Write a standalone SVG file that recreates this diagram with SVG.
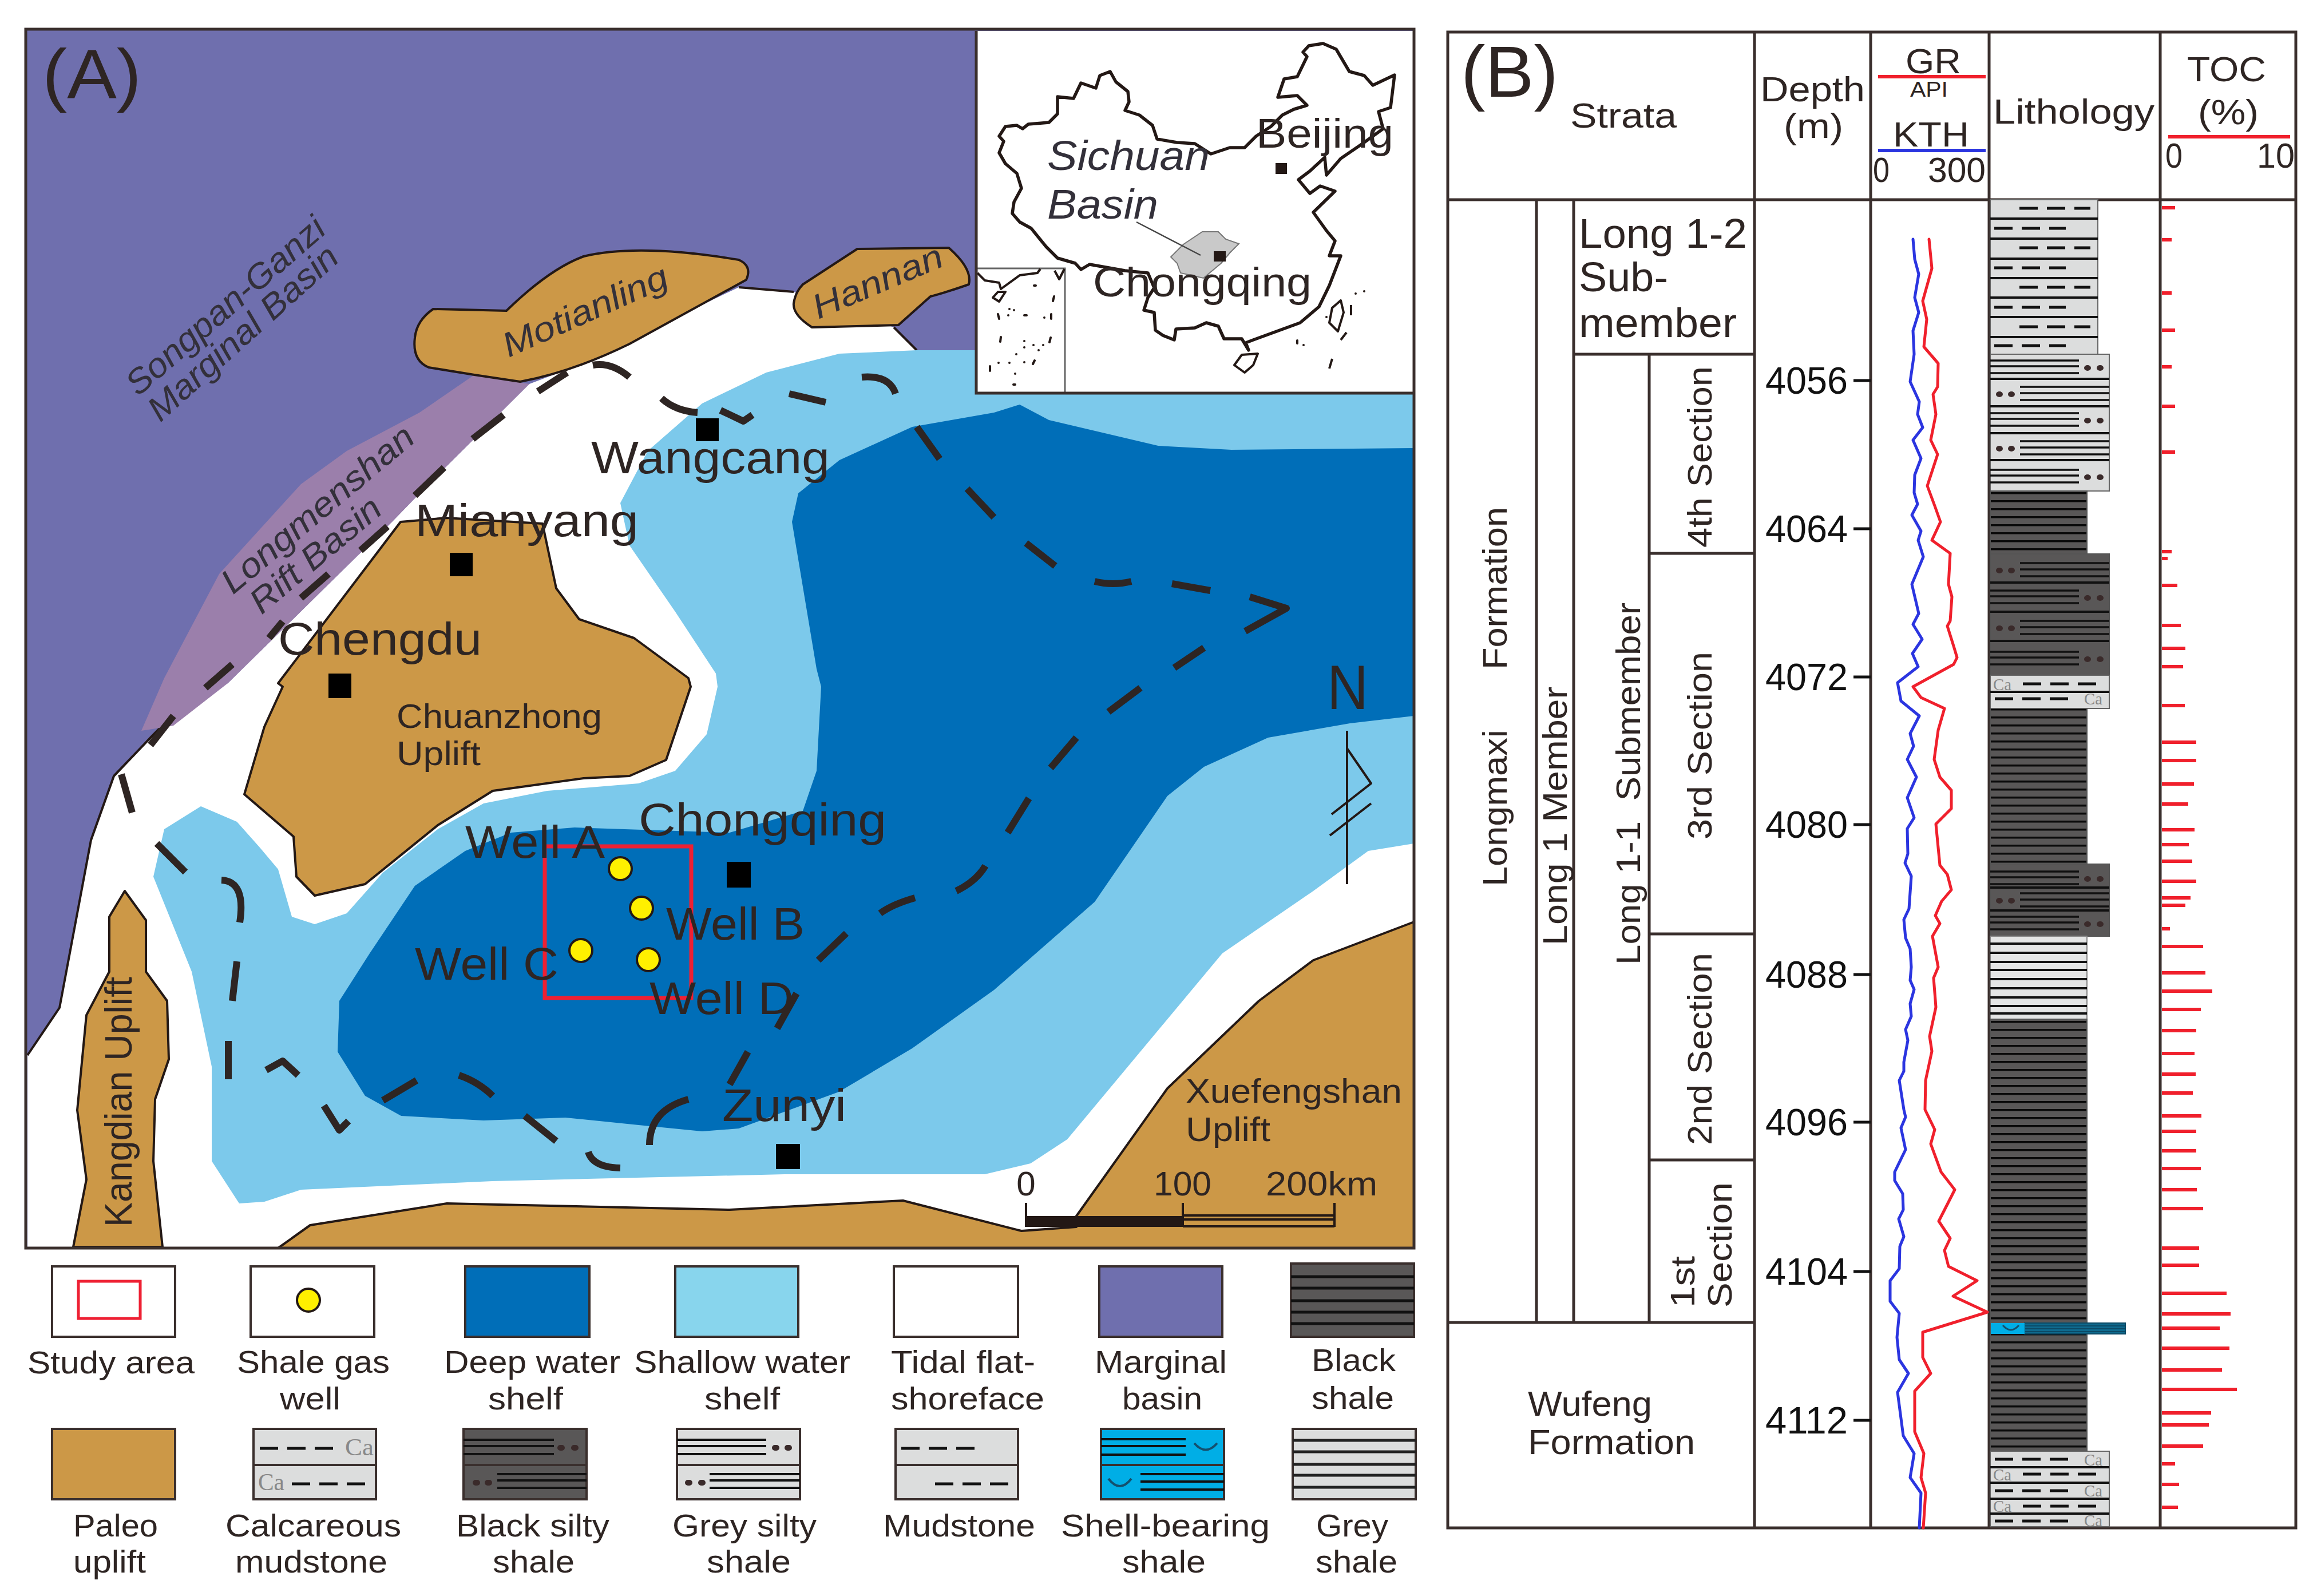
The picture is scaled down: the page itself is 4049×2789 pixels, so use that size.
<svg xmlns="http://www.w3.org/2000/svg" xmlns:xlink="http://www.w3.org/1999/xlink" width="4049" height="2789" viewBox="0 0 4049 2789">
<style>
text{font-family:"Liberation Sans",Arial,sans-serif;fill:#2e2523}
.it{font-style:italic;fill:#33303a}
.ca{font-family:"Liberation Serif",serif;fill:#888}
.pre{white-space:pre}
.up{fill:#cc9847;stroke:#231815;stroke-width:4;stroke-linejoin:round}
.fr{fill:none;stroke:#3a2f2d;stroke-width:5}
.dl{fill:none;stroke:#2e2523;stroke-width:12;stroke-linejoin:round}
.city{fill:#000}
.well{fill:#fff000;stroke:#231815;stroke-width:4}
.thin{fill:none;stroke:#231815;stroke-width:4;stroke-linejoin:round}
.lb{stroke:#3a2f2d;stroke-width:4}
.dash{fill:none;stroke:#111;stroke-width:5;stroke-dasharray:32 16}
.ln{fill:none;stroke:#111;stroke-width:3.5}
.sep{fill:none;stroke:#111;stroke-width:4}
.bl{fill:#3a2a2a}
.dots{fill:none;stroke:#3a2a2a;stroke-width:10;stroke-linecap:round}
.mud{fill:#dcdddd;stroke:#666;stroke-width:2}
.bs{fill:#595757;stroke:#555;stroke-width:2}
.red{stroke:#f0202c;fill:none;stroke-width:6}
.blue{stroke:#2b35e0;fill:none;stroke-width:6}
.log{stroke-linejoin:round;stroke-linecap:round;fill:none;stroke-width:5}
</style>
<defs>
<pattern id="shale" patternUnits="userSpaceOnUse" width="40" height="14"><rect width="40" height="14" fill="#595757"/><rect y="6" width="40" height="3.5" fill="#0a0a0a"/></pattern>
<g id="siltL"><path class="ln" d="M3478 11H3633M3478 21H3633M3478 33H3633"/><ellipse class="bl" cx="3648" cy="24" rx="6" ry="5"/><ellipse class="bl" cx="3670" cy="24" rx="6" ry="5"/></g>
<g id="siltR"><path class="ln" d="M3530 14H3686M3530 25H3686M3530 37H3686"/><ellipse class="bl" cx="3494" cy="27" rx="6" ry="5"/><ellipse class="bl" cx="3515" cy="27" rx="6" ry="5"/></g>
</defs>
<rect width="4049" height="2789" fill="#fff"/>

<g id="map-A">
<rect id="marginal-basin" x="45" y="51" width="2426" height="2130" fill="#6f6fae"/>
<path id="tidal-flat" fill="#fff" d="M48 1844L104 1761L135 1596L159 1468L199 1356L263 1289L311 1240L398 1194L685 912L749 846L925 671L988 647L1291 502L1387 510L1562 572L1602 612H2471V2181H48Z"/>
<path class="thin" d="M48 1844L104 1761L135 1596L159 1468L199 1356L263 1289L311 1240M1291 502L1387 510M1562 572L1602 612"/>
<path id="longmenshan" fill="#9b7fab" d="M247 1277L287 1185L383 1003L526 846L606 788L733 721L829 655L925 671L749 846L685 912L398 1194L303 1268Z"/>
<path id="shallow-shelf" fill="#7cc9eb" d="M1602 612L1467 618L1339 651L1227 705L1132 788L1084 879L1100 953L1180 1069L1251 1177L1254 1200L1235 1283L1180 1347L1116 1369L956 1382L845 1404L765 1449L669 1525L606 1596L550 1615L510 1602L486 1519L454 1481L414 1436L351 1409L287 1449L268 1532L335 1698L370 1864L370 2029L418 2103L462 2100L526 2079L861 2064L1371 2052L1721 2052L1801 2033L1865 1991L2136 1666L2295 1557L2391 1487L2471 1474V612Z"/>
<path id="deep-shelf" fill="#006eb8" d="M1594 746L1737 721L1782 707L1833 734L2024 779L2152 786L2471 783V1251L2359 1264L2216 1289L2104 1340L2040 1391L1913 1576L1737 1730L1594 1832L1466 1908L1291 1972L1227 1977L1116 1966L988 1953L845 1958L701 1950L638 1915L590 1838L593 1749L646 1666L725 1548L813 1487L893 1455L1004 1446L1275 1455L1403 1417L1427 1347L1435 1200L1427 1169L1384 912L1395 862L1467 804Z"/>
<path id="motianling" class="up" d="M757 540L885 543Q960 470 1020 448Q1116 425 1291 454Q1315 465 1304 489L1100 601Q1000 650 909 667L829 655L749 642Q720 630 725 590Q728 560 757 540Z"/>
<path id="hannan" class="up" d="M1498 435L1658 433Q1700 470 1693 497Q1650 512 1626 518L1570 568L1419 572Q1385 550 1387 530Q1390 510 1403 497Z"/>
<path id="chuanzhong" class="up" d="M700 912L780 905L948 915L972 1028L1012 1082L1108 1115L1203 1185L1207 1200L1164 1328L1100 1356L1020 1360L861 1382L765 1442L638 1545L550 1565L518 1532L513 1462L427 1388L462 1270L494 1200L486 1194Z"/>
<path id="kangdian" class="up" d="M218 1557L255 1608L255 1698L292 1749L295 1851L271 1921L268 2029L284 2179H128L151 2061L135 1940L151 1774L191 1698L191 1602Z"/>
<path id="xuefengshan" class="up" d="M2471 1611L2295 1678L2200 1749L2040 1902L1881 2125L1881 2144L1785 2151L1578 2098L1275 2114L781 2103L542 2141L486 2181H2471Z"/>
</g>

<g id="connectors">
<path class="dl" d="M263 1302L303 1251M359 1202L406 1161M470 1115L494 1086M526 1045L574 1003M630 962L677 920M725 866L776 817M826 767L880 725M940 684L991 651M1036 638Q1068 632 1100 659M1156 696Q1180 718 1219 721M1259 717L1299 736L1315 725M1379 688L1443 703M1506 659Q1554 655 1565 688M1602 746L1642 802M1690 854L1737 904M1793 949L1844 989M1913 1016Q1945 1024 1977 1016M2048 1020L2115 1032M2184 1043L2248 1063L2176 1103M2104 1132L2052 1167M1993 1202L1937 1244M1881 1289L1836 1342M1798 1395L1761 1455M1722 1513Q1706 1540 1671 1557M1599 1569Q1560 1580 1538 1596M1479 1631L1430 1678M1392 1736L1358 1797M1307 1838L1275 1895M1203 1921Q1135 1940 1135 2001M1084 2041Q1036 2040 1028 2013M972 1994L917 1950M861 1915Q835 1890 802 1879M728 1888L669 1923M609 1959L593 1975L566 1932M521 1879L494 1854L465 1870M399 1819V1886M406 1749L414 1680M419 1612Q430 1540 387 1538M324 1524L274 1474M231 1420L212 1353"/>
</g>

<g id="map-labels">
<text transform="translate(241,694) rotate(-41)" font-size="60" class="it" textLength="440" lengthAdjust="spacingAndGlyphs">Songpan-Ganzi</text>
<text transform="translate(280,739) rotate(-42)" font-size="60" class="it" textLength="425" lengthAdjust="spacingAndGlyphs">Marginal Basin</text>
<text transform="translate(407,1040) rotate(-40)" font-size="60" class="it" textLength="420" lengthAdjust="spacingAndGlyphs">Longmenshan</text>
<text transform="translate(457,1075) rotate(-40)" font-size="60" class="it" textLength="280" lengthAdjust="spacingAndGlyphs">Rift Basin</text>
<text transform="translate(889,625) rotate(-24)" font-size="60" class="it" textLength="310" lengthAdjust="spacingAndGlyphs">Motianling</text>
<text transform="translate(1430,558) rotate(-23)" font-size="60" class="it" textLength="242" lengthAdjust="spacingAndGlyphs">Hannan</text>
<text transform="translate(230,2144) rotate(-90)" font-size="66" textLength="437" lengthAdjust="spacingAndGlyphs">Kangdian Uplift</text>
<text x="693" y="1272" font-size="60" textLength="359" lengthAdjust="spacingAndGlyphs">Chuanzhong</text>
<text x="693" y="1337" font-size="60" textLength="147" lengthAdjust="spacingAndGlyphs">Uplift</text>
<text x="2072" y="1927" font-size="60" textLength="378" lengthAdjust="spacingAndGlyphs">Xuefengshan</text>
<text x="2072" y="1994" font-size="60" textLength="148" lengthAdjust="spacingAndGlyphs">Uplift</text>
<text x="74" y="172" font-size="122" textLength="173" lengthAdjust="spacingAndGlyphs">(A)</text>
</g>

<g id="cities">
<g id="wangcang"><rect class="city" x="1216" y="731" width="40" height="40"/><text x="1033" y="827" font-size="80" textLength="417" lengthAdjust="spacingAndGlyphs">Wangcang</text></g>
<g id="mianyang"><rect class="city" x="786" y="966" width="40" height="41"/><text x="725" y="937" font-size="80" textLength="391" lengthAdjust="spacingAndGlyphs">Mianyang</text></g>
<g id="chengdu"><rect class="city" x="574" y="1177" width="40" height="43"/><text x="486" y="1144" font-size="80" textLength="356" lengthAdjust="spacingAndGlyphs">Chengdu</text></g>
<g id="chongqing"><rect class="city" x="1270" y="1506" width="42" height="45"/><text x="1116" y="1460" font-size="80" textLength="433" lengthAdjust="spacingAndGlyphs">Chongqing</text></g>
<g id="zunyi"><rect class="city" x="1356" y="1999" width="42" height="44"/><text x="1262" y="1959" font-size="80" textLength="217" lengthAdjust="spacingAndGlyphs">Zunyi</text></g>
</g>

<g id="study-area">
<rect x="952" y="1479" width="256" height="265" fill="none" stroke="#ee2033" stroke-width="7"/>
<circle class="well" cx="1084" cy="1518" r="20"/><circle class="well" cx="1121" cy="1587" r="20"/><circle class="well" cx="1015" cy="1661" r="20"/><circle class="well" cx="1133" cy="1677" r="20"/>
<text x="813" y="1499" font-size="80" textLength="244" lengthAdjust="spacingAndGlyphs">Well A</text>
<text x="1164" y="1642" font-size="80" textLength="242" lengthAdjust="spacingAndGlyphs">Well B</text>
<text x="725" y="1712" font-size="80" textLength="251" lengthAdjust="spacingAndGlyphs">Well C</text>
<text x="1135" y="1772" font-size="80" textLength="252" lengthAdjust="spacingAndGlyphs">Well D</text>
</g>

<g id="north-arrow">
<text x="2319" y="1239" font-size="110" textLength="72" lengthAdjust="spacingAndGlyphs">N</text>
<path class="thin" d="M2354 1277V1545M2354 1308L2396 1369L2327 1423M2396 1404L2324 1460"/>
</g>

<g id="scale-bar">
<rect x="1793" y="2125" width="274" height="19" fill="#231815"/>
<path class="thin" d="M1793 2102V2144M2067 2102V2144M2332 2102V2144M2067 2124H2332M2067 2131H2332M2067 2143H2332"/>
<text x="1793" y="2089" font-size="60" text-anchor="middle">0</text>
<text x="2016" y="2089" font-size="60" textLength="101" lengthAdjust="spacingAndGlyphs">100</text>
<text x="2212" y="2089" font-size="60" textLength="195" lengthAdjust="spacingAndGlyphs">200km</text>
</g>

<g id="china-inset">
<rect x="1706" y="54" width="765" height="633" fill="#fff"/>
<path class="thin" style="stroke-width:5.5" d="M1746 238L1757 221L1777 219L1787 225L1797 217L1833 214L1848 199L1848 169L1876 172L1889 145L1915 154L1922 132L1940 125L1950 143L1971 160L1973 178L1966 193L1991 201L2014 219L2022 243L2057 249L2088 251L2116 269L2149 258L2175 258L2195 238L2221 221L2241 201L2261 191L2284 184L2267 167L2233 170L2244 138L2267 134L2284 99L2277 91L2287 80L2312 76L2335 86L2358 125L2384 132L2399 149L2437 131L2430 188L2409 195L2417 225L2381 251L2343 277L2318 306L2315 275L2289 299L2269 314L2289 338L2307 325L2333 334L2295 371L2318 403L2333 421L2323 447L2343 447L2323 499L2305 536L2272 564L2231 579L2190 594L2177 599L2182 612L2170 592L2139 592L2129 570L2108 564L2088 573L2055 575L2052 594L2032 586L2019 577L2017 546L1999 542L2006 520L2017 503L2006 477L1966 473L1904 462L1889 471L1879 460L1848 451L1828 431L1802 399L1782 388L1769 373L1772 353L1785 329L1777 303L1757 286L1746 267L1754 247Z"/>
<path class="thin" d="M2198 618L2170 620L2157 638L2175 651L2190 638ZM2343 525L2328 538L2323 564L2338 579L2348 546ZM2361 533V551M2353 581L2343 594M2328 627L2323 644"/>
<path fill="#c9c9c9" stroke="#777" stroke-width="2" d="M2101 405L2129 405L2142 418L2165 426L2149 442L2134 460L2103 486L2063 477L2057 460L2046 449L2068 427Z"/>
<path fill="none" stroke="#444" stroke-width="2.5" d="M1986 388L2098 446"/>
<rect fill="#231815" x="2121" y="439" width="21" height="18"/>
<rect fill="#231815" x="2229" y="285" width="20" height="19"/>
<rect x="1706" y="469" width="155" height="218" fill="#fff" stroke="#666" stroke-width="3"/>
<path class="thin" d="M1708 477L1721 490L1746 494L1749 505L1782 481L1813 477L1818 470M1843 473L1851 488L1860 470M1757 510L1744 510L1735 520L1746 527Z"/>
<path fill="none" stroke="#231815" stroke-width="4" stroke-linecap="round" d="M1807 499h3M1842 518l-2 8M1764 540h0M1772 542h0M1762 551h0M1744 549l2 8M1790 551h4M1825 555h0M1837 549v8M1749 589l-1 8M1790 596h0M1790 607h0M1806 603h0M1823 603h0M1836 590l-2 8M1815 612h0M1776 619h0M1745 634h0M1764 634h0M1790 633h0M1808 630l-3 6M1730 640v8M1774 653h0M1771 672h3M2369 513h0M2384 509h0M2267 595v5M2278 603h0M2318 554h0"/>
<text x="2195" y="258" font-size="72" textLength="240" lengthAdjust="spacingAndGlyphs">Beijing</text>
<text x="1830" y="297" font-size="72" class="it" textLength="284" lengthAdjust="spacingAndGlyphs">Sichuan</text>
<text x="1830" y="382" font-size="72" class="it" textLength="194" lengthAdjust="spacingAndGlyphs">Basin</text>
<text x="1910" y="518" font-size="72" textLength="382" lengthAdjust="spacingAndGlyphs">Chongqing</text>
<path class="fr" d="M1706 54V687H2471"/>
</g>
<rect id="map-frame" class="fr" x="45" y="51" width="2426" height="2130"/>

<g id="legend">
<g id="lg-study"><rect class="lb" x="91" y="2213" width="215" height="123" fill="#fff"/><rect x="137" y="2239" width="108" height="65" fill="none" stroke="#ee2033" stroke-width="5"/><text x="48" y="2400" font-size="56" textLength="292" lengthAdjust="spacingAndGlyphs">Study area</text></g>
<g id="lg-well"><rect class="lb" x="438" y="2213" width="216" height="123" fill="#fff"/><circle class="well" cx="539" cy="2272" r="20"/><text x="414" y="2399" font-size="56" textLength="267" lengthAdjust="spacingAndGlyphs">Shale gas</text><text x="489" y="2463" font-size="56" textLength="106" lengthAdjust="spacingAndGlyphs">well</text></g>
<g id="lg-deep"><rect class="lb" x="813" y="2213" width="217" height="123" fill="#006eb8"/><text x="776" y="2399" font-size="56" textLength="308" lengthAdjust="spacingAndGlyphs">Deep water</text><text x="853" y="2463" font-size="56" textLength="131" lengthAdjust="spacingAndGlyphs">shelf</text></g>
<g id="lg-shallow"><rect class="lb" x="1180" y="2213" width="215" height="123" fill="#88d5ed"/><text x="1108" y="2399" font-size="56" textLength="378" lengthAdjust="spacingAndGlyphs">Shallow water</text><text x="1231" y="2463" font-size="56" textLength="132" lengthAdjust="spacingAndGlyphs">shelf</text></g>
<g id="lg-tidal"><rect class="lb" x="1562" y="2213" width="217" height="123" fill="#fff"/><text x="1557" y="2399" font-size="56" textLength="252" lengthAdjust="spacingAndGlyphs">Tidal flat-</text><text x="1557" y="2463" font-size="56" textLength="268" lengthAdjust="spacingAndGlyphs">shoreface</text></g>
<g id="lg-marginal"><rect class="lb" x="1921" y="2213" width="215" height="123" fill="#6f6fae"/><text x="1913" y="2399" font-size="56" textLength="231" lengthAdjust="spacingAndGlyphs">Marginal</text><text x="1961" y="2463" font-size="56" textLength="140" lengthAdjust="spacingAndGlyphs">basin</text></g>
<g id="lg-black"><rect class="lb" x="2256" y="2208" width="215" height="128" fill="#595757"/><path stroke="#111" stroke-width="5" d="M2256 2231H2471M2256 2251H2471M2256 2273H2471M2256 2293H2471M2256 2313H2471"/><text x="2292" y="2396" font-size="56" textLength="147" lengthAdjust="spacingAndGlyphs">Black</text><text x="2292" y="2462" font-size="56" textLength="144" lengthAdjust="spacingAndGlyphs">shale</text></g>

<g id="lg-paleo"><rect class="lb" x="91" y="2497" width="215" height="123" fill="#cc9847"/><text x="128" y="2685" font-size="56" textLength="148" lengthAdjust="spacingAndGlyphs">Paleo</text><text x="128" y="2748" font-size="56" textLength="127" lengthAdjust="spacingAndGlyphs">uplift</text></g>
<g id="lg-calc"><rect class="lb" x="443" y="2497" width="214" height="123" fill="#dcdddd"/><path class="lb" d="M443 2560H657"/><path class="dash" d="M454 2531H598M510 2593H650"/><text x="603" y="2543" font-size="42" class="ca" textLength="50" lengthAdjust="spacingAndGlyphs">Ca</text><text x="451" y="2604" font-size="42" class="ca" textLength="46" lengthAdjust="spacingAndGlyphs">Ca</text><text x="394" y="2685" font-size="56" textLength="307" lengthAdjust="spacingAndGlyphs">Calcareous</text><text x="411" y="2748" font-size="56" textLength="266" lengthAdjust="spacingAndGlyphs">mudstone</text></g>
<g id="lg-blacksilty"><rect class="lb" x="810" y="2497" width="215" height="123" fill="#595757"/><path class="lb" d="M810 2560H1025"/><path class="sep" d="M810 2516H968M810 2527H968M810 2541H968M869 2576H1025M869 2587H1025M869 2600H1025"/><path class="dots" d="M979 2530h3M1003 2530h3M831 2591h3M852 2591h3"/><text x="797" y="2685" font-size="56" textLength="268" lengthAdjust="spacingAndGlyphs">Black silty</text><text x="861" y="2748" font-size="56" textLength="143" lengthAdjust="spacingAndGlyphs">shale</text></g>
<g id="lg-greysilty"><rect class="lb" x="1183" y="2497" width="215" height="123" fill="#dcdddd"/><path class="lb" d="M1183 2560H1398"/><path class="sep" d="M1183 2516H1339M1183 2527H1339M1183 2541H1339M1240 2576H1398M1240 2587H1398M1240 2600H1398"/><path class="dots" d="M1354 2530h3M1376 2530h3M1202 2591h3M1225 2591h3"/><text x="1175" y="2685" font-size="56" textLength="252" lengthAdjust="spacingAndGlyphs">Grey silty</text><text x="1235" y="2748" font-size="56" textLength="147" lengthAdjust="spacingAndGlyphs">shale</text></g>
<g id="lg-mud"><rect class="lb" x="1565" y="2497" width="214" height="123" fill="#dcdddd"/><path class="lb" d="M1565 2560H1779"/><path class="dash" d="M1575 2531H1714M1634 2593H1773"/><text x="1543" y="2685" font-size="56" textLength="266" lengthAdjust="spacingAndGlyphs">Mudstone</text></g>
<g id="lg-shell"><rect class="lb" x="1924" y="2497" width="215" height="123" fill="#00aee6"/><path class="lb" d="M1924 2560H2139"/><path class="sep" d="M1924 2515H2072M1924 2527H2072M1924 2542H2072M1993 2576H2139M1993 2589H2139M1993 2603H2139"/><path fill="none" stroke="#14506e" stroke-width="4" d="M2087 2522Q2107 2545 2127 2522M1937 2584Q1957 2610 1977 2584"/><text x="1854" y="2685" font-size="56" textLength="365" lengthAdjust="spacingAndGlyphs">Shell-bearing</text><text x="1961" y="2748" font-size="56" textLength="146" lengthAdjust="spacingAndGlyphs">shale</text></g>
<g id="lg-grey"><rect class="lb" x="2259" y="2497" width="215" height="123" fill="#dcdddd"/><path stroke="#222" stroke-width="5" d="M2259 2517H2474M2259 2537H2474M2259 2559H2474M2259 2578H2474M2259 2599H2474"/><text x="2300" y="2685" font-size="56" textLength="126" lengthAdjust="spacingAndGlyphs">Grey</text><text x="2299" y="2748" font-size="56" textLength="143" lengthAdjust="spacingAndGlyphs">shale</text></g>
</g>

<g id="panel-B">
<g id="grid"><path class="fr" d="M2530 56H4012V2670H2530ZM2530 349H4012M3066 56V2670M3269 56V2670M3476 56V2670M3775 56V2670M2685 349V2311M2750 349V2311M2882 619V2311M2750 619H3066M2882 967H3066M2882 1632H3066M2882 2027H3066M2530 2311H3066"/></g>
<g id="header">
<text x="2553" y="169" font-size="126" textLength="170" lengthAdjust="spacingAndGlyphs">(B)</text>
<text x="2744" y="223" font-size="62" textLength="186" lengthAdjust="spacingAndGlyphs">Strata</text>
<text x="3076" y="177" font-size="62" textLength="183" lengthAdjust="spacingAndGlyphs">Depth</text>
<text x="3117" y="241" font-size="62" textLength="104" lengthAdjust="spacingAndGlyphs">(m)</text>
<text x="3330" y="128" font-size="62" textLength="97" lengthAdjust="spacingAndGlyphs">GR</text>
<path class="red" d="M3282 134H3470"/>
<text x="3338" y="169" font-size="36" textLength="66" lengthAdjust="spacingAndGlyphs">API</text>
<text x="3308" y="256" font-size="62" textLength="133" lengthAdjust="spacingAndGlyphs">KTH</text>
<path class="blue" d="M3282 263H3470"/>
<text x="3273" y="318" font-size="62" textLength="29" lengthAdjust="spacingAndGlyphs">0</text>
<text x="3369" y="318" font-size="62" textLength="101" lengthAdjust="spacingAndGlyphs">300</text>
<text x="3483" y="216" font-size="62" textLength="282" lengthAdjust="spacingAndGlyphs">Lithology</text>
<text x="3822" y="142" font-size="62" textLength="138" lengthAdjust="spacingAndGlyphs">TOC</text>
<text x="3841" y="217" font-size="62" textLength="106" lengthAdjust="spacingAndGlyphs">(%)</text>
<path class="red" d="M3789 239H4002"/>
<text x="3784" y="293" font-size="62" textLength="30" lengthAdjust="spacingAndGlyphs">0</text>
<text x="3944" y="293" font-size="62" textLength="66" lengthAdjust="spacingAndGlyphs">10</text>
</g>
<g id="strata">
<text x="2759" y="433" font-size="72" textLength="294" lengthAdjust="spacingAndGlyphs">Long 1-2</text>
<text x="2759" y="509" font-size="72" textLength="156" lengthAdjust="spacingAndGlyphs">Sub-</text>
<text x="2759" y="589" font-size="72" textLength="276" lengthAdjust="spacingAndGlyphs">member</text>
<text transform="translate(2633,1549) rotate(-90)" font-size="60" class="pre" xml:space="preserve" textLength="663" lengthAdjust="spacingAndGlyphs">Longmaxi      Formation</text>
<text transform="translate(2738,1652) rotate(-90)" font-size="60" textLength="452" lengthAdjust="spacingAndGlyphs">Long 1 Member</text>
<text transform="translate(2866,1686) rotate(-90)" font-size="60" class="pre" xml:space="preserve" textLength="633" lengthAdjust="spacingAndGlyphs">Long 1-1  Submember</text>
<text transform="translate(2991,957) rotate(-90)" font-size="60" textLength="317" lengthAdjust="spacingAndGlyphs">4th Section</text>
<text transform="translate(2991,1467) rotate(-90)" font-size="60" textLength="328" lengthAdjust="spacingAndGlyphs">3rd Section</text>
<text transform="translate(2991,2001) rotate(-90)" font-size="60" textLength="336" lengthAdjust="spacingAndGlyphs">2nd Section</text>
<text transform="translate(2961,2285) rotate(-90)" font-size="60" textLength="90" lengthAdjust="spacingAndGlyphs">1st</text>
<text transform="translate(3026,2285) rotate(-90)" font-size="60" textLength="219" lengthAdjust="spacingAndGlyphs">Section</text>
<text x="2670" y="2474" font-size="62" textLength="217" lengthAdjust="spacingAndGlyphs">Wufeng</text>
<text x="2670" y="2541" font-size="62" textLength="292" lengthAdjust="spacingAndGlyphs">Formation</text>
</g>
<g id="depth-scale">
<path stroke="#111" stroke-width="5" d="M3239 665H3269M3239 924H3269M3239 1183H3269M3239 1441H3269M3239 1703H3269M3239 1961H3269M3239 2222H3269M3239 2482H3269"/>
<g font-size="66">
<text x="3085" y="688" style="fill:#111" textLength="144" lengthAdjust="spacingAndGlyphs">4056</text>
<text x="3085" y="947" style="fill:#111" textLength="144" lengthAdjust="spacingAndGlyphs">4064</text>
<text x="3085" y="1206" style="fill:#111" textLength="144" lengthAdjust="spacingAndGlyphs">4072</text>
<text x="3085" y="1464" style="fill:#111" textLength="144" lengthAdjust="spacingAndGlyphs">4080</text>
<text x="3085" y="1726" style="fill:#111" textLength="144" lengthAdjust="spacingAndGlyphs">4088</text>
<text x="3085" y="1984" style="fill:#111" textLength="144" lengthAdjust="spacingAndGlyphs">4096</text>
<text x="3085" y="2245" style="fill:#111" textLength="144" lengthAdjust="spacingAndGlyphs">4104</text>
<text x="3085" y="2505" style="fill:#111" textLength="144" lengthAdjust="spacingAndGlyphs">4112</text>
</g>
</g>
<g id="logs">
<path class="log" stroke="#2b35e0" d="M3343 418L3346 453L3353 479L3346 520L3353 546L3343 578L3345 619L3338 667L3354 702L3351 724L3360 747L3343 769L3357 801L3346 830L3345 861L3351 881L3341 900L3357 928L3352 944L3361 973L3341 1021L3353 1072L3343 1091L3359 1117L3342 1142L3352 1165L3316 1193L3322 1225L3354 1251L3338 1282L3344 1304L3333 1327L3349 1358L3333 1394L3345 1429L3333 1448L3334 1492L3329 1508L3340 1531L3336 1588L3327 1607L3330 1639L3338 1658L3340 1690L3338 1713L3345 1729L3338 1754L3340 1776L3330 1799L3334 1818L3327 1856L3327 1872L3319 1888L3327 1939L3330 1952L3322 1971L3330 2009L3311 2048L3311 2063L3325 2086L3326 2114L3318 2130L3327 2161L3320 2178L3319 2217L3303 2238L3303 2274L3319 2295L3315 2337L3319 2376L3335 2400L3316 2433L3326 2509L3345 2540L3338 2582L3357 2609L3354 2670"/>
<path class="log" stroke="#f0202c" d="M3371 418L3376 469L3360 526L3367 558L3362 606L3387 635L3386 676L3378 689L3383 724L3374 769L3386 794L3368 849L3381 884L3391 912L3376 944L3408 967L3405 1021L3411 1043L3408 1085L3403 1094L3414 1129L3420 1149L3414 1161L3343 1200L3357 1219L3398 1238L3387 1276L3380 1327L3390 1358L3410 1381L3410 1413L3383 1440L3390 1512L3403 1528L3410 1555L3393 1575L3382 1600L3390 1614L3377 1636L3387 1690L3379 1709L3383 1760L3372 1811L3376 1837L3365 1888L3364 1939L3381 1974L3374 1999L3392 2048L3416 2079L3388 2134L3408 2164L3398 2185L3405 2213L3455 2238L3413 2265L3473 2293L3360 2328L3360 2372L3374 2400L3346 2431L3346 2502L3362 2540L3357 2582L3365 2609L3361 2670"/>
</g>
<g id="lithology">
<rect class="mud" x="3478" y="349" width="188" height="270"/>
<path class="sep" d="M3478 382H3666M3478 417H3666M3478 452H3666M3478 486H3666M3478 520H3666M3478 554H3666M3478 589H3666"/>
<path class="dash" d="M3529 364H3653M3485 399H3610M3529 433H3653M3485 468H3610M3529 502H3653M3485 537H3610M3529 571H3653M3485 604H3610"/>
<rect class="mud" x="3478" y="619" width="208" height="239"/>
<path class="sep" d="M3478 662H3686M3478 710H3686M3478 757H3686M3478 804H3686"/>
<use xlink:href="#siltL" href="#siltL" y="619"/><use xlink:href="#siltR" href="#siltR" y="662"/><use xlink:href="#siltL" href="#siltL" y="711"/><use xlink:href="#siltR" href="#siltR" y="757"/><use xlink:href="#siltL" href="#siltL" y="810"/>
<rect x="3478" y="858" width="169" height="110" fill="url(#shale)" stroke="#555" stroke-width="2"/>
<rect class="bs" x="3478" y="968" width="208" height="212"/>
<path class="sep" d="M3478 1018H3686M3478 1069H3686M3478 1120H3686"/>
<use xlink:href="#siltR" href="#siltR" y="970"/><use xlink:href="#siltL" href="#siltL" y="1021"/><use xlink:href="#siltR" href="#siltR" y="1071"/><use xlink:href="#siltL" href="#siltL" y="1128"/>
<rect class="mud" x="3478" y="1180" width="208" height="58"/>
<path class="sep" d="M3478 1209H3686"/>
<path class="dash" d="M3535 1195H3674M3486 1221H3626"/>
<text class="ca" x="3483" y="1206" font-size="30" textLength="32" lengthAdjust="spacingAndGlyphs">Ca</text>
<text class="ca" x="3642" y="1231" font-size="30" textLength="32" lengthAdjust="spacingAndGlyphs">Ca</text>
<rect x="3478" y="1238" width="169" height="272" fill="url(#shale)" stroke="#555" stroke-width="2"/>
<rect class="bs" x="3478" y="1510" width="208" height="126"/>
<path class="sep" d="M3478 1551H3686M3478 1591H3686"/>
<use xlink:href="#siltL" href="#siltL" y="1512"/><use xlink:href="#siltR" href="#siltR" y="1547"/><use xlink:href="#siltL" href="#siltL" y="1591"/>
<rect x="3478" y="1636" width="169" height="145" fill="#e4e5e5" stroke="#888" stroke-width="2"/>
<path class="sep" d="M3478 1649H3647M3478 1665H3647M3478 1681H3647M3478 1695H3647M3478 1711H3647M3478 1727H3647M3478 1743H3647M3478 1758H3647M3478 1771H3647"/>
<rect x="3478" y="1781" width="169" height="755" fill="url(#shale)" stroke="#555" stroke-width="2"/>
<rect x="3538" y="2312" width="176" height="19" fill="#0f6a8e" stroke="#0b4a66" stroke-width="2"/>
<rect x="3479" y="2312" width="59" height="19" fill="#00aee6"/>
<path stroke="#0b4a66" stroke-width="2" d="M3538 2317H3714M3538 2322H3714M3538 2327H3714"/>
<path fill="none" stroke="#14506e" stroke-width="3" d="M3500 2316Q3514 2332 3528 2316"/>
<rect class="mud" x="3478" y="2536" width="208" height="132"/>
<path class="sep" d="M3478 2564H3686M3478 2591H3686M3478 2619H3686M3478 2645H3686"/>
<path class="dash" d="M3486 2550H3626M3535 2576H3674M3486 2605H3626M3535 2632H3674M3486 2658H3626"/>
<text class="ca" x="3642" y="2561" font-size="30" textLength="32" lengthAdjust="spacingAndGlyphs">Ca</text>
<text class="ca" x="3483" y="2587" font-size="30" textLength="32" lengthAdjust="spacingAndGlyphs">Ca</text>
<text class="ca" x="3642" y="2615" font-size="30" textLength="32" lengthAdjust="spacingAndGlyphs">Ca</text>
<text class="ca" x="3483" y="2642" font-size="30" textLength="32" lengthAdjust="spacingAndGlyphs">Ca</text>
<text class="ca" x="3642" y="2667" font-size="30" textLength="32" lengthAdjust="spacingAndGlyphs">Ca</text>
</g>
<g id="toc">
<path class="red" d="M3778 363H3801M3778 419H3795M3778 512H3795M3778 577H3801M3778 641H3795M3778 710H3801M3778 790H3801M3778 964H3795M3778 976H3788M3778 1023H3805M3778 1093H3811M3778 1133H3819M3778 1165H3815M3778 1233H3818M3778 1297H3838M3778 1329H3838M3778 1370H3834M3778 1405H3824M3778 1450H3835M3778 1476H3825M3778 1505H3831M3778 1540H3838M3778 1569H3828M3778 1582H3819M3778 1623H3792M3778 1654H3850M3778 1700H3854M3778 1732H3866M3778 1764H3846M3778 1801H3838M3778 1841H3835M3778 1877H3837M3778 1910H3832M3778 1950H3847M3778 1977H3838M3778 2011H3838M3778 2042H3846M3778 2079H3839M3778 2112H3850M3778 2181H3843M3778 2211H3843M3778 2260H3891M3778 2296H3898M3778 2321H3879M3778 2356H3896M3778 2394H3883M3778 2428H3909M3778 2469H3864M3778 2490H3860M3778 2527H3850M3778 2558H3801M3778 2594H3808M3778 2634H3806"/>
</g>
</g>
</svg>
